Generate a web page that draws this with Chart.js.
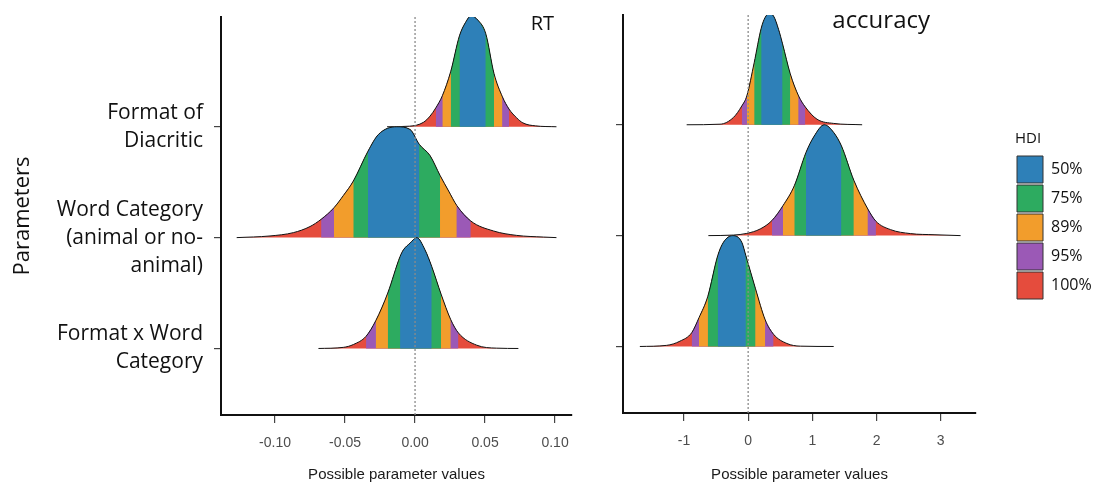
<!DOCTYPE html>
<html>
<head>
<meta charset="utf-8">
<script src="https://cdn.jsdelivr.net/npm/chart.js@4.4.1/dist/chart.umd.min.js"></script>
<style>
  html, body { margin: 0; padding: 0; background: #fff; }
  #wrap { position: relative; width: 1104px; height: 487px; overflow: hidden; }
  canvas { position: absolute; top: 0; }
</style>
</head>
<body>
<div id="wrap">
  <canvas id="rtChart" width="590" height="487" style="left:0"></canvas>
  <canvas id="accChart" width="514" height="487" style="left:590px"></canvas>
</div>
<script>
// parameter names, bottom (1) to top (3)
var paramLabels = [
  ['Format x Word', 'Category'],
  ['Word Category', '(animal or no-', 'animal)'],
  ['Format of', 'Diacritic']
];
var hdiLabels = ['50%', '75%', '89%', '95%', '100%'];
var hdiColors = ['#2e80b8', '#2dab60', '#f29d2c', '#9b59b6', '#e54c3d'];

var rtTicks = [-0.10, -0.05, 0.00, 0.05, 0.10];
var accTicks = [-1, 0, 1, 2, 3];

// RT posterior densities (x = parameter value, h = scaled density)
var rtDiacriticX = [-0.020, -0.004, 0.006, 0.0107, 0.0148, 0.0195, 0.0255, 0.0317, 0.036, 0.040, 0.045, 0.0505, 0.0564, 0.0624, 0.0671, 0.0726, 0.077, 0.086, 0.101];
var rtDiacriticH = [0, 0.005, 0.04, 0.096, 0.17, 0.28, 0.50, 0.82, 0.94, 1.0, 0.96, 0.84, 0.48, 0.27, 0.16, 0.08, 0.035, 0.008, 0];
var rtDiacriticHdi = [[0.0317, 0.0505], [0.0255, 0.0564], [0.0195, 0.0624], [0.0148, 0.0671]];

var rtCategoryX = [-0.1274, -0.1036, -0.0869, -0.075, -0.0671, -0.0579, -0.0512, -0.0441, -0.0336, -0.0262, -0.0131, -0.0036, 0.0031, 0.0107, 0.0179, 0.024, 0.0298, 0.0398, 0.056, 0.0726, 0.0917, 0.101];
var rtCategoryH = [0, 0.015, 0.045, 0.10, 0.165, 0.27, 0.38, 0.51, 0.78, 0.93, 1.0, 0.976, 0.84, 0.74, 0.56, 0.42, 0.29, 0.15, 0.06, 0.02, 0.005, 0];
var rtCategoryHdi = [[-0.0336, 0.0031], [-0.0441, 0.0179], [-0.0579, 0.0298], [-0.0671, 0.0398]];

var rtInteractionX = [-0.069, -0.0512, -0.044, -0.035, -0.0281, -0.0195, -0.0107, -0.0083, -0.0036, 0.0012, 0.0071, 0.0119, 0.0186, 0.0255, 0.031, 0.044, 0.0583, 0.0738];
var rtInteractionH = [0, 0.01, 0.036, 0.11, 0.25, 0.50, 0.83, 0.89, 0.95, 1.0, 0.89, 0.74, 0.49, 0.26, 0.14, 0.03, 0.003, 0];
var rtInteractionHdi = [[-0.0107, 0.0119], [-0.0195, 0.0186], [-0.0281, 0.0255], [-0.035, 0.031]];

// accuracy posterior densities
var accDiacriticX = [-0.958, -0.4375, -0.229, -0.099, -0.021, 0.094, 0.203, 0.266, 0.328, 0.396, 0.474, 0.536, 0.656, 0.786, 0.891, 1.073, 1.333, 1.776];
var accDiacriticH = [0, 0.005, 0.066, 0.17, 0.26, 0.56, 0.87, 0.97, 1.0, 0.98, 0.86, 0.73, 0.46, 0.26, 0.16, 0.05, 0.012, 0];
var accDiacriticHdi = [[0.203, 0.536], [0.094, 0.656], [-0.021, 0.786], [-0.099, 0.891]];

var accCategoryX = [-0.62, -0.229, -0.021, 0.1875, 0.37, 0.542, 0.719, 0.901, 1.021, 1.1875, 1.333, 1.453, 1.646, 1.865, 1.99, 2.219, 2.531, 2.896, 3.31];
var accCategoryH = [0, 0.005, 0.02, 0.06, 0.136, 0.27, 0.45, 0.75, 0.89, 1.0, 0.93, 0.81, 0.50, 0.24, 0.13, 0.054, 0.018, 0.008, 0];
var accCategoryHdi = [[0.901, 1.453], [0.719, 1.646], [0.542, 1.865], [0.37, 1.99]];

var accInteractionX = [-1.6875, -1.271, -1.0625, -0.88, -0.766, -0.63, -0.474, -0.385, -0.24, -0.099, -0.036, 0.115, 0.266, 0.396, 0.604, 0.8125, 1.333];
var accInteractionH = [0, 0.01, 0.048, 0.124, 0.26, 0.45, 0.82, 0.94, 1.0, 0.94, 0.82, 0.52, 0.24, 0.11, 0.027, 0.003, 0];
var accInteractionHdi = [[-0.474, -0.036], [-0.63, 0.115], [-0.766, 0.266], [-0.88, 0.396]];

var yMin = 0.4, yMax = 3.99;

var sans = '"Liberation Sans", Arial, sans-serif';
var open = '"Open Sans", sans-serif';

// one ridge = red full curve, then the 95/89/75/50% intervals painted over it, then the outline
function ridgeLayers(xs, hs, hdi, base) {
  var pts = xs.map(function(x, i) { return {x: x, y: base + hs[i]}; });
  var layers = [{
    data: pts, fill: {value: base}, backgroundColor: hdiColors[4],
    borderWidth: 0, pointRadius: 0, cubicInterpolationMode: 'monotone'
  }];
  for (var i = hdi.length - 1; i >= 0; i--) {
    var lo = hdi[i][0] - 1e-9, hi = hdi[i][1] + 1e-9;
    layers.push({
      data: pts.filter(function(p) { return p.x >= lo && p.x <= hi; }),
      fill: {value: base}, backgroundColor: hdiColors[i],
      borderWidth: 0, pointRadius: 0, cubicInterpolationMode: 'monotone'
    });
  }
  layers.push({
    data: pts, fill: false, borderColor: '#111', borderWidth: 1,
    pointRadius: 0, cubicInterpolationMode: 'monotone'
  });
  return layers;
}

function zeroLine() {
  return {
    data: [{x: 0, y: yMin}, {x: 0, y: yMax}],
    borderColor: '#8a8a8a',
    borderWidth: 1.3,
    borderDash: [2, 2],
    pointRadius: 0,
    fill: false
  };
}

// back-to-front list -> chart.js order (higher order is drawn first)
function stack(list) {
  list.forEach(function(d, i) { d.order = list.length - i; });
  return list;
}

var panelLabel = {
  id: 'panelLabel',
  afterDraw: function(chart, args, opts) {
    var ctx = chart.ctx, area = chart.chartArea;
    ctx.save();
    ctx.font = opts.size + 'px ' + open;
    ctx.fillStyle = '#111';
    ctx.textAlign = 'right';
    ctx.textBaseline = 'alphabetic';
    ctx.fillText(opts.text, area.right - opts.dx, area.top + opts.dy);
    ctx.restore();
  }
};

function xScale(min, max, ticks, fmt, height) {
  return {
    type: 'linear',
    min: min,
    max: max,
    afterBuildTicks: function(axis) { axis.ticks = ticks.map(function(v) { return {value: v}; }); },
    afterFit: function(s) { s.height = height; s.paddingLeft = 0; s.paddingRight = 0; },
    border: {display: true, color: '#111', width: 2},
    grid: {drawOnChartArea: false, drawTicks: true, tickLength: 8, color: '#444', lineWidth: 1.2},
    ticks: {
      autoSkip: false, maxRotation: 0, padding: 12,
      color: '#4d4d4d', font: {family: sans, size: 14},
      callback: fmt
    },
    title: {
      display: true, text: 'Possible parameter values',
      color: '#1a1a1a', font: {family: sans, size: 15},
      padding: {top: 0, bottom: 3}
    }
  };
}

function yScale(width, showLabels) {
  return {
    type: 'linear',
    min: yMin,
    max: yMax,
    afterBuildTicks: function(axis) { axis.ticks = [1, 2, 3].map(function(v) { return {value: v}; }); },
    afterFit: function(s) { s.width = width; s.paddingTop = 0; s.paddingBottom = 0; },
    border: {display: true, color: '#111', width: 2},
    grid: {drawOnChartArea: false, drawTicks: true, tickLength: 7, color: '#444', lineWidth: 1.2},
    ticks: {
      autoSkip: false, padding: 11,
      color: '#111', font: {family: open, size: 21, lineHeight: 1.333},
      callback: function(v) { return showLabels ? paramLabels[v - 1] : ''; }
    },
    title: {
      display: showLabels, text: 'Parameters',
      color: '#111', font: {family: open, size: 22},
      padding: {top: 10, bottom: 0}
    }
  };
}

new Chart(document.getElementById('rtChart'), {
  type: 'line',
  plugins: [panelLabel],
  data: {
    datasets: stack([].concat(
      ridgeLayers(rtDiacriticX, rtDiacriticH, rtDiacriticHdi, 3),
      ridgeLayers(rtCategoryX, rtCategoryH, rtCategoryHdi, 2),
      ridgeLayers(rtInteractionX, rtInteractionH, rtInteractionHdi, 1),
      [zeroLine()]
    ))
  },
  options: {
    responsive: false,
    animation: false,
    devicePixelRatio: 1,
    layout: {padding: {top: 17, right: 18, left: 0, bottom: 0}},
    scales: {
      x: xScale(-0.1386, 0.1121, rtTicks, function(v) { return v.toFixed(2); }, 72),
      y: yScale(221, true)
    },
    plugins: {
      legend: {display: false},
      tooltip: {enabled: false},
      panelLabel: {text: 'RT', size: 20, dx: 18, dy: 13}
    }
  }
});

new Chart(document.getElementById('accChart'), {
  type: 'line',
  plugins: [panelLabel],
  data: {
    datasets: stack([].concat(
      ridgeLayers(accDiacriticX, accDiacriticH, accDiacriticHdi, 3),
      ridgeLayers(accCategoryX, accCategoryH, accCategoryHdi, 2),
      ridgeLayers(accInteractionX, accInteractionH, accInteractionHdi, 1),
      [zeroLine()]
    ))
  },
  options: {
    responsive: false,
    animation: false,
    devicePixelRatio: 1,
    layout: {padding: {top: 15, right: 4, left: 0, bottom: 0}},
    scales: {
      x: xScale(-1.95, 3.55, accTicks, function(v) { return String(v); }, 74),
      y: yScale(33, false),
      gap: {
        type: 'linear', position: 'right', display: true,
        grid: {display: false}, border: {display: false}, ticks: {display: false},
        afterFit: function(s) { s.width = 39; s.paddingTop = 0; s.paddingBottom = 0; }
      }
    },
    plugins: {
      tooltip: {enabled: false},
      panelLabel: {text: 'accuracy', size: 24, dx: 46, dy: 13},
      legend: {
        position: 'right',
        align: 'center',
        fullSize: false,
        title: {
          display: true, text: 'HDI', position: 'start',
          color: '#111', font: {family: open, size: 15},
          padding: {top: 4, bottom: 5}
        },
        labels: {
          boxWidth: 26, boxHeight: 27, padding: 2,
          color: '#111', font: {family: open, size: 16},
          generateLabels: function() {
            return hdiLabels.map(function(t, i) {
              return {text: t, fillStyle: hdiColors[i], strokeStyle: '#333', lineWidth: 1, hidden: false, index: i};
            });
          }
        }
      }
    }
  }
});
</script>
</body>
</html>
